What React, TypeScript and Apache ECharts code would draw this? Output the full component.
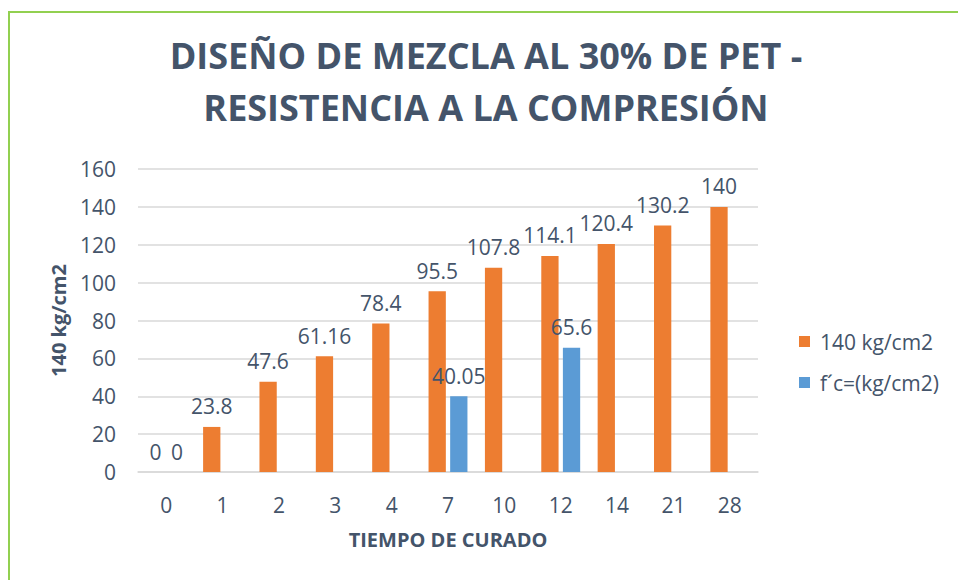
import { useEffect, useRef } from "react";
import * as echarts from "echarts";

const categories = ["0", "1", "2", "3", "4", "7", "10", "12", "14", "21", "28"];
const design140 = [0, 23.8, 47.6, 61.16, 78.4, 95.5, 107.8, 114.1, 120.4, 130.2, 140];
const fcValues: (number | null)[] = [0, null, null, null, null, 40.05, null, 65.6, null, null, null];
const seriesNames = ["140 kg/cm2", "f´c=(kg/cm2)"];
const titleText = "DISEÑO DE MEZCLA AL 30% DE PET -\nRESISTENCIA A LA COMPRESIÓN";
const xAxisTitle = "TIEMPO DE CURADO";
const yAxisTitle = "140 kg/cm2";
const yMin = 0;
const yMax = 160;
const yInterval = 20;

const TEXT = "#44546A";
const FONT = "'Open Sans', sans-serif";

export default function App() {
  const ref = useRef<HTMLDivElement>(null);
  useEffect(() => {
    if (!ref.current) return;
    const chart = echarts.init(ref.current, null, { renderer: "svg" });
    const label = {
      show: true,
      position: "top",
      distance: 10,
      color: TEXT,
      fontFamily: FONT,
      fontSize: 21,
    };
    chart.setOption({
      animation: false,
      backgroundColor: "#ffffff",
      graphic: [
        {
          type: "rect",
          shape: { x: 9, y: 12, width: 1200, height: 1200 },
          style: { fill: "none", stroke: "#92D050", lineWidth: 2 },
          silent: true,
        },
      ],
      title: {
        text: titleText,
        left: 486,
        top: 29,
        padding: 0,
        textAlign: "center",
        textStyle: {
          color: TEXT,
          fontFamily: FONT,
          fontWeight: "bold",
          fontSize: 36,
          lineHeight: 52,
        },
      },
      legend: {
        orient: "vertical",
        left: 799,
        top: 331,
        padding: 0,
        itemWidth: 11,
        itemHeight: 11,
        itemGap: 20,
        icon: "rect",
        textStyle: {
          color: TEXT,
          fontFamily: FONT,
          fontSize: 21,
          padding: [0, 0, 0, 5],
        },
        data: seriesNames,
      },
      grid: { left: 138, right: 200, top: 169, bottom: 108 },
      xAxis: {
        type: "category",
        data: categories,
        name: xAxisTitle,
        nameLocation: "middle",
        nameGap: 57,
        nameTextStyle: { color: TEXT, fontFamily: FONT, fontWeight: "bold", fontSize: 20 },
        axisLine: { lineStyle: { color: "#D9D9D9", width: 1.5 } },
        axisTick: { show: false },
        axisLabel: { color: TEXT, fontFamily: FONT, fontSize: 21, margin: 22 },
      },
      yAxis: {
        type: "value",
        min: yMin,
        max: yMax,
        interval: yInterval,
        name: yAxisTitle,
        nameLocation: "middle",
        nameGap: 70,
        nameRotate: 90,
        nameTextStyle: { color: TEXT, fontFamily: FONT, fontWeight: "bold", fontSize: 20 },
        axisLine: { show: false },
        axisTick: { show: false },
        axisLabel: { color: TEXT, fontFamily: FONT, fontSize: 21, margin: 22 },
        splitLine: { lineStyle: { color: "#D9D9D9", width: 1.5 } },
      },
      series: [
        {
          name: seriesNames[0],
          type: "bar",
          data: design140,
          barGap: "25%",
          barCategoryGap: "31%",
          itemStyle: { color: "#ED7D31" },
          label,
        },
        {
          name: seriesNames[1],
          type: "bar",
          data: fcValues,
          itemStyle: { color: "#5B9BD5" },
          label,
        },
      ],
    });
    return () => chart.dispose();
  }, []);
  return (
    <div
      ref={ref}
      style={{ position: "fixed", left: 0, top: 0, width: 958, height: 580 }}
    />
  );
}
